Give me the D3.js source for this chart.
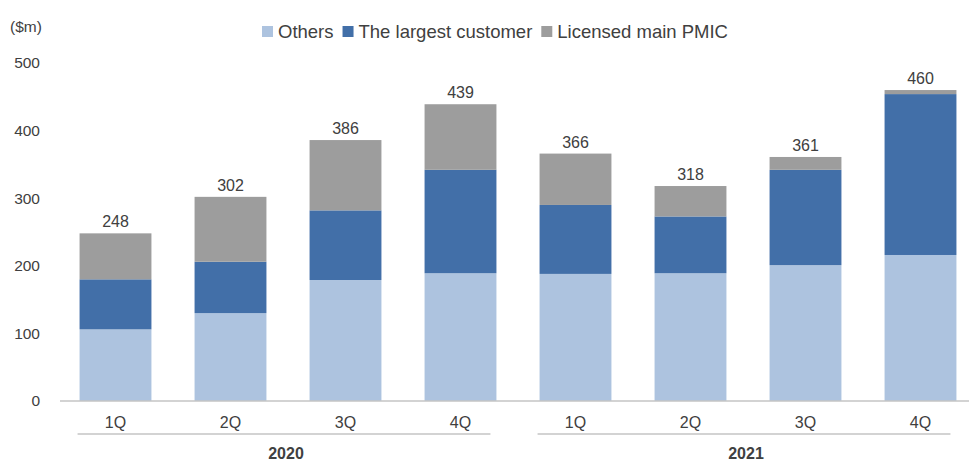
<!DOCTYPE html>
<html>
<head>
<meta charset="utf-8">
<script src="https://cdn.jsdelivr.net/npm/d3@7"></script>
<style>
  body { margin: 0; background: #fff; }
  text { font-family: "Liberation Sans", Arial, sans-serif; fill: #404040; }
</style>
</head>
<body>
<div id="chart"></div>
<script>
var quarters = ["1Q", "2Q", "3Q", "4Q", "1Q", "2Q", "3Q", "4Q"];
var years = ["2020", "2021"];
var others = [106, 130, 179, 189, 188, 189, 201, 216];
var largest = [74, 76, 103, 153, 102, 84, 141, 238];
var licensed = [68, 96, 104, 97, 76, 45, 19, 6];
var totals = [248, 302, 386, 439, 366, 318, 361, 460];
var seriesNames = ["Others", "The largest customer", "Licensed main PMIC"];
var yTicks = [0, 100, 200, 300, 400, 500];

var width = 969, height = 461;
var colors = ["#adc3df", "#426fa8", "#9d9d9d"];

var svg = d3.select("#chart").append("svg")
    .attr("width", width)
    .attr("height", height);

var rows = quarters.map((q, i) => ({
    idx: i, Others: others[i],
    "The largest customer": largest[i],
    "Licensed main PMIC": licensed[i]
}));

var x = d3.scaleBand()
    .domain(d3.range(quarters.length))
    .range([58, 978])
    .paddingInner(0.375)
    .paddingOuter(0.1875);

var y = d3.scaleLinear()
    .domain([0, 500])
    .range([401, 63]);

var stack = d3.stack().keys(seriesNames)(rows);

// y tick labels
svg.selectAll(".ytick")
    .data(yTicks)
    .enter()
    .append("text")
    .attr("x", 40)
    .attr("y", d => y(d))
    .attr("dy", "0.35em")
    .attr("text-anchor", "end")
    .attr("font-size", 15.5)
    .text(d => d);

svg.append("text")
    .attr("x", 10)
    .attr("y", 32)
    .attr("font-size", 15.5)
    .text("($m)");

// bars
svg.selectAll(".layer")
    .data(stack)
    .enter()
    .append("g")
    .attr("fill", (d, i) => colors[i])
    .selectAll("rect")
    .data(d => d)
    .enter()
    .append("rect")
    .attr("x", d => x(d.data.idx))
    .attr("y", d => y(d[1]))
    .attr("width", x.bandwidth())
    .attr("height", d => y(d[0]) - y(d[1]));

// baseline
svg.append("line")
    .attr("x1", 60).attr("x2", width)
    .attr("y1", y(0)).attr("y2", y(0))
    .attr("stroke", "#c4c4c4")
    .attr("stroke-width", 1.5);

// total labels
svg.selectAll(".total")
    .data(totals)
    .enter()
    .append("text")
    .attr("x", (d, i) => x(i) + x.bandwidth() / 2)
    .attr("y", (d, i) => y(d3.max(stack, s => s[i][1])) - 6)
    .attr("text-anchor", "middle")
    .attr("font-size", 16)
    .text(d => d);

// quarter labels
svg.selectAll(".qlabel")
    .data(quarters)
    .enter()
    .append("text")
    .attr("x", (d, i) => x(i) + x.bandwidth() / 2)
    .attr("y", 428)
    .attr("text-anchor", "middle")
    .attr("font-size", 16)
    .text(d => d);

// year group lines and labels
years.forEach(function (yr, g) {
    var first = x(g * 4), last = x(g * 4 + 3) + x.bandwidth();
    svg.append("line")
        .attr("x1", first - 2).attr("x2", last - 6)
        .attr("y1", 434).attr("y2", 434)
        .attr("stroke", "#c4c4c4")
        .attr("stroke-width", 1.5);
    svg.append("text")
        .attr("x", (first + last) / 2 - 2)
        .attr("y", 459)
        .attr("text-anchor", "middle")
        .attr("font-size", 16)
        .attr("font-weight", "bold")
        .attr("fill", "#262626")
        .text(yr);
});

// legend
var legend = svg.append("g").attr("transform", "translate(262,32)");
var lx = 0;
seriesNames.forEach(function (name, i) {
    legend.append("rect")
        .attr("x", lx).attr("y", -6)
        .attr("width", 11).attr("height", 11)
        .attr("fill", colors[i]);
    var t = legend.append("text")
        .attr("x", lx + 16)
        .attr("y", 0)
        .attr("dy", "0.35em")
        .attr("font-size", 18.5)
        .text(name);
    lx += 16 + t.node().getComputedTextLength() + 9;
});
</script>
</body>
</html>
